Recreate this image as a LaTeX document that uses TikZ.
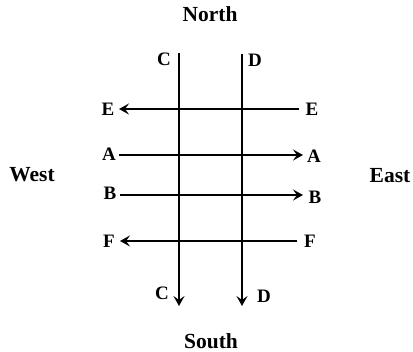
\documentclass[tikz,border=0pt]{standalone}
\usepackage{fontspec}
\setmainfont{Liberation Serif}
\usetikzlibrary{arrows.meta}
\begin{document}
\begin{tikzpicture}[x=1pt,y=-1pt,
  word/.style={font=\fontsize{21.5}{24}\selectfont\bfseries, inner sep=0pt},
  letter/.style={font=\fontsize{19}{21}\selectfont\bfseries, inner sep=0pt},
  road/.style={line width=2.2pt, -{Stealth[length=10pt,width=11pt,inset=4pt]}}]
\useasboundingbox (0,0) rectangle (413,352);
% compass words
\node[word] (north) at (210,14) {North};
\node[word] (south) at (211,341) {South};
\node[word] (west) at (32,175) {West};
\node[word] (east) at (390,176) {East};
% letter labels
\node[letter] (Ct) at (164,59) {C};
\node[letter] (Dt) at (255,60) {D};
\node[letter] (Cb) at (162,293) {C};
\node[letter] (Db) at (264,296) {D};
\node[letter] (El) at (108,109) {E};
\node[letter] (Er) at (312,109) {E};
\node[letter] (Al) at (109,154) {A};
\node[letter] (Ar) at (314,156) {A};
\node[letter] (Bl) at (110,193) {B};
\node[letter] (Br) at (315,197) {B};
\node[letter] (Fl) at (109,241) {F};
\node[letter] (Fr) at (310,241) {F};
% line ends
\coordinate (C1) at (179,53);  \coordinate (C2) at (179,306);
\coordinate (D1) at (242,54);  \coordinate (D2) at (242,306);
\coordinate (E1) at (299,109); \coordinate (E2) at (119,109);
\coordinate (A1) at (119,155); \coordinate (A2) at (303,155);
\coordinate (B1) at (120,195); \coordinate (B2) at (303,195);
\coordinate (F1) at (297,241); \coordinate (F2) at (120,241);
\draw[road] (C1) -- (C2);
\draw[road] (D1) -- (D2);
\draw[road] (E1) -- (E2);
\draw[road] (A1) -- (A2);
\draw[road] (B1) -- (B2);
\draw[road] (F1) -- (F2);
\end{tikzpicture}
\end{document}
